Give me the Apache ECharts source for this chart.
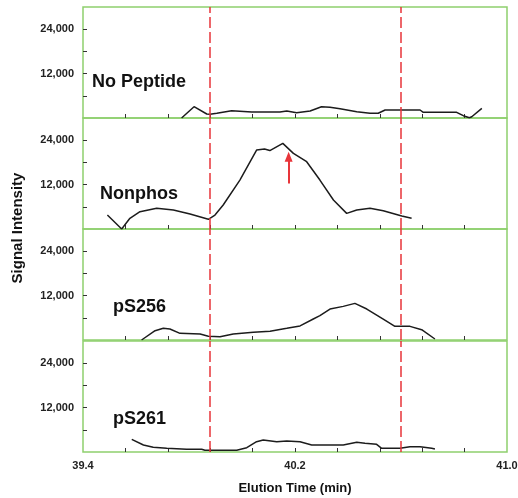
<!DOCTYPE html>
<html><head><meta charset="utf-8">
<script src="https://cdn.jsdelivr.net/npm/echarts@6/dist/echarts.min.js"></script>
<style>html,body{margin:0;padding:0;background:#fff}#c{width:518px;height:498px}</style>
</head><body><div id="c"></div>
<script>
// ---- data ----
const panelNames = ['No Peptide', 'Nonphos', 'pS256', 'pS261'];
const noPeptide = [[39.772,0],[39.819,3050],[39.867,1080],[39.879,1000],[39.905,1270],[39.961,1970],[40.037,1620],[40.143,1620],[40.169,1890],[40.206,1430],[40.257,1890],[40.30,3050],[40.332,2890],[40.37,2500],[40.433,1700],[40.483,1270],[40.514,1270],[40.540,2160],[40.603,2160],[40.672,2160],[40.684,1540],[40.81,1540],[40.835,620],[40.858,80],[40.867,350],[40.905,2620]];
const nonphos = [[39.492,3780],[39.546,0],[39.577,2890],[39.615,4680],[39.678,5590],[39.741,5130],[39.804,4050],[39.873,2620],[39.898,3780],[39.929,6480],[39.992,13230],[40.055,21330],[40.062,21600],[40.085,21600],[40.105,21200],[40.154,23130],[40.194,20430],[40.244,18180],[40.294,13230],[40.345,7830],[40.395,4230],[40.433,5130],[40.483,5590],[40.533,4940],[40.603,3510],[40.640,2890]];
const pS256 = [[39.621,0],[39.672,2520],[39.703,3150],[39.728,2970],[39.766,1800],[39.842,1620],[39.873,990],[39.917,890],[39.967,1620],[40.043,2070],[40.106,2340],[40.169,3150],[40.219,3800],[40.269,5670],[40.294,6570],[40.332,8370],[40.382,9090],[40.426,9900],[40.471,8370],[40.533,5670],[40.577,3690],[40.634,3690],[40.678,2790],[40.728,270]];
const pS261 = [[39.584,3420],[39.628,1890],[39.665,1260],[39.716,990],[39.791,720],[39.848,720],[39.86,450],[39.98,450],[40.018,1170],[40.055,2790],[40.08,3240],[40.131,2790],[40.169,2970],[40.219,2790],[40.263,1890],[40.382,1890],[40.389,2340],[40.433,2610],[40.464,2340],[40.508,2070],[40.527,990],[40.596,990],[40.634,1430],[40.672,1430],[40.716,990],[40.728,810]];
const seriesData = [noPeptide, nonphos, pS256, pS261];
const xMin = 39.4, xMax = 41.0;
const xTickValues = [39.56,39.72,39.88,40.04,40.2,40.36,40.52,40.68,40.84];
const xLabelValues = [39.4, 40.2, 41.0];
const yMin = 0, yMax = 30000;
const yTickValues = [6000,12000,18000,24000];
const yLabelValues = [12000,24000];
const markerTimes = [39.877, 40.6];
const arrowTime = 40.176, arrowFrom = 12300, arrowTo = 19500;

// ---- layout / style ----
const FONT = "'Liberation Sans', Arial, sans-serif";
const GREEN = '#8fd06e';
const RED = '#e8353a';
const gridTops = [7, 118, 229, 341];
const gridH = 111;
const labelPos = [[92, 82], [100, 194], [113, 307], [113, 419]];

const grids = [], xAxes = [], yAxes = [], series = [], graphics = [];
for (let i = 0; i < 4; i++) {
  grids.push({left: 83, right: 11, top: gridTops[i], height: gridH, show: true,
    outerBoundsMode: 'none', containLabel: false,
    borderColor: GREEN, borderWidth: 1.5, backgroundColor: 'transparent'});
  const last = i === 3;
  xAxes.push({type: 'value', gridIndex: i, min: xMin, max: xMax,
    axisLine: {show: false}, splitLine: {show: false},
    axisTick: {show: true, inside: true, length: 4, customValues: xTickValues,
      lineStyle: {color: '#333', width: 1}},
    axisLabel: {show: last, customValues: xLabelValues, margin: 8,
      formatter: v => v.toFixed(1),
      fontFamily: FONT, fontWeight: 'bold', fontSize: 11, color: '#222'},
    name: last ? 'Elution Time (min)' : '', nameLocation: 'middle', nameGap: 30,
    nameTextStyle: {fontFamily: FONT, fontWeight: 'bold', fontSize: 13, color: '#111'}
  });
  yAxes.push({type: 'value', gridIndex: i, min: yMin, max: yMax,
    axisLine: {show: false}, splitLine: {show: false},
    axisTick: {show: true, inside: true, length: 4, customValues: yTickValues,
      lineStyle: {color: '#333', width: 1}},
    axisLabel: {customValues: yLabelValues, margin: 9,
      formatter: v => v.toLocaleString('en-US'),
      fontFamily: FONT, fontWeight: 'bold', fontSize: 11, color: '#222'}
  });
  const markData = markerTimes.map(t => ({xAxis: t}));
  const s = {type: 'line', xAxisIndex: i, yAxisIndex: i, data: seriesData[i],
    showSymbol: false, symbol: 'none', animation: false,
    lineStyle: {color: '#1c1c1c', width: 1.5},
    markLine: {silent: true, symbol: 'none', animation: false, label: {show: false},
      lineStyle: {color: RED, type: [11, 4], width: 1.5},
      data: markData}
  };
  series.push(s);
  graphics.push({type: 'text', x: labelPos[i][0], y: labelPos[i][1],
    style: {text: panelNames[i], font: "bold 18px " + FONT, fill: '#111',
      textVerticalAlign: 'middle', textAlign: 'left'}});
}
// red arrow in Nonphos panel
series.push({type: 'line', xAxisIndex: 1, yAxisIndex: 1, data: [], animation: false,
  markLine: {silent: true, animation: false, symbol: ['none', 'triangle'], symbolSize: [8, 10],
    label: {show: false}, lineStyle: {color: RED, type: 'solid', width: 2},
    data: [[{coord: [arrowTime, arrowFrom]}, {coord: [arrowTime, arrowTo]}]]}});

graphics.push({type: 'text', x: 18, y: 228, rotation: Math.PI / 2,
  style: {text: 'Signal Intensity', font: "bold 15px " + FONT, fill: '#111',
    textAlign: 'center', textVerticalAlign: 'middle'}});

const chart = echarts.init(document.getElementById('c'), null, {renderer: 'canvas'});
chart.setOption({animation: false, grid: grids, xAxis: xAxes, yAxis: yAxes,
  series: series, graphic: graphics});
</script></body></html>
